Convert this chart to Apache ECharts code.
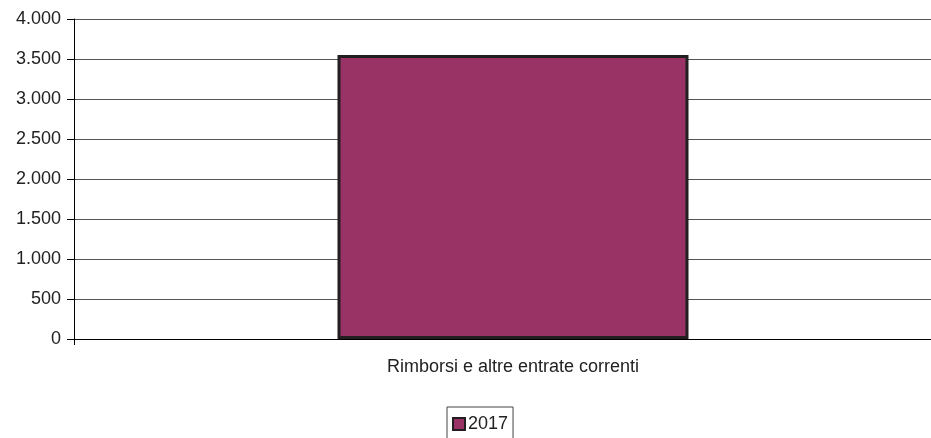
<!DOCTYPE html>
<html><head><meta charset="utf-8">
<script src="https://cdn.jsdelivr.net/npm/echarts@6/dist/echarts.min.js"></script>
<style>html,body{margin:0;padding:0;background:#fff;overflow:hidden}#c{width:952px;height:438px}</style>
</head><body><div id="c"></div>
<script>
const categories = ["Rimborsi e altre entrate correnti"];
const seriesName = "2017";
const values2017 = [3550];
const yTicks = [0, 500, 1000, 1500, 2000, 2500, 3000, 3500, 4000];

const chart = echarts.init(document.getElementById('c'), null, {renderer: 'canvas'});
const fmt = v => String(v).replace(/\B(?=(\d{3})+(?!\d))/g, '.');
chart.setOption({
  animation: false,
  textStyle: {fontFamily: 'Liberation Sans, Arial, sans-serif'},
  grid: {left: 74, top: 19, right: 0, height: 320, containLabel: false},
  legend: {
    data: [seriesName], top: 407, left: 447,
    itemWidth: 12, itemHeight: 12, itemGap: 4,
    padding: [8, 5, 8, 5],
    borderColor: '#444', borderWidth: 1,
    textStyle: {fontSize: 18, color: '#222', padding: [0,0,0,-2]},
    icon: 'rect'
  },
  xAxis: {
    type: 'category', data: categories,
    axisLine: {lineStyle: {color: '#000', width: 1}},
    axisTick: {show: true, length: 6, lineStyle: {color: '#000'}},
    axisLabel: {fontSize: 18, color: '#222', margin: 19}
  },
  yAxis: {
    type: 'value', min: 0, max: 4000, interval: 500,
    axisLine: {show: true, lineStyle: {color: '#000', width: 1}},
    axisTick: {show: true, length: 7, lineStyle: {color: '#000'}},
    axisLabel: {fontSize: 18, color: '#222', margin: 13, formatter: fmt},
    splitLine: {lineStyle: {color: '#555', width: 1}}
  },
  series: [{
    name: seriesName, type: 'bar', data: values2017,
    barWidth: 351,
    itemStyle: {color: '#993366', borderColor: '#231f20', borderWidth: 3}
  }]
});
</script></body></html>
